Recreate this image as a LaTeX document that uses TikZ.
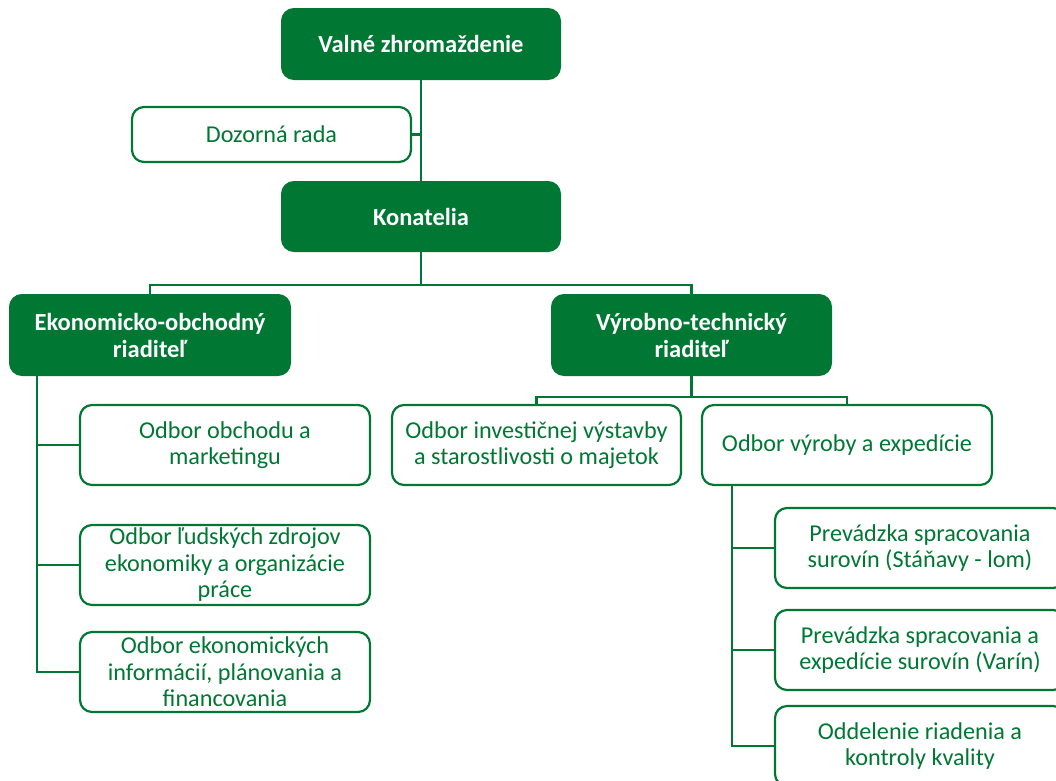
\documentclass[tikz,border=0pt]{standalone}
\usepackage{fontspec}
\setmainfont{Carlito}
\usetikzlibrary{positioning}
\definecolor{zelena}{RGB}{0,120,52}

\begin{document}
\begin{tikzpicture}[x=1pt,y=-1pt,
 line/.style={draw=zelena,line width=2.5pt},
 main node/.style={rectangle,rounded corners=12pt,fill=zelena,draw=zelena,line width=2pt,text=white,
   font=\fontsize{24.5}{27}\selectfont\bfseries,align=center,minimum width=278pt,minimum height=70pt,inner sep=1pt},
 sub node/.style={rectangle,rounded corners=12pt,fill=white,draw=zelena,line width=2.2pt,text=zelena,
   font=\fontsize{24.2}{26.5}\selectfont,align=center,minimum width=290pt,minimum height=80pt,inner sep=1pt}]

  \path[use as bounding box,clip] (0,0) rectangle (1056,780);

  \node[main node] (valne) at (421,44) {Valné zhromaždenie};
  \node[sub node, minimum width=279pt, minimum height=55pt] (dozor) at (271.5,134.5) {Dozorná rada};
  \node[main node, minimum height=69pt] (konat) at (421,216.5) {Konatelia};
  \node[main node, minimum width=280pt, minimum height=80pt] (ekon) at (150,335) {Ekonomicko-obchodný\\riaditeľ};
  \node[main node, minimum width=279pt, minimum height=80pt] (vyrob) at (691.5,335) {Výrobno-technický\\riaditeľ};

  \node[sub node] (obchod) at (225,445) {Odbor obchodu a\\marketingu};
  \node[sub node] (ludia) at (225,565) {Odbor ľudských zdrojov\\ekonomiky a organizácie\\práce};
  \node[sub node] (info) at (225,672) {Odbor ekonomických\\informácií, plánovania a\\financovania};
  \node[sub node, minimum width=289pt] (invest) at (536.5,445) {Odbor investičnej výstavby\\a starostlivosti o majetok};
  \node[sub node] (exped) at (847,445) {Odbor výroby a expedície};
  \node[sub node] (lom) at (920,548) {Prevádzka spracovania\\surovín (Stáňavy - lom)};
  \node[sub node] (varin) at (920,650) {Prevádzka spracovania a\\expedície surovín (Varín)};
  \node[sub node] (kvalita) at (920,746) {Oddelenie riadenia a\\kontroly kvality};

  \draw[line] (valne) -- (konat);
  \draw[line] (dozor.east) -- (dozor.east -| valne.south);
  \draw[line] (konat.south) -- ++(0,33) coordinate (k);
  \draw[line] (ekon.north) |- (k) -| (vyrob.north);
  \draw[line] (vyrob.south) -- ++(0,21) coordinate (v);
  \draw[line] (invest.north) |- (v) -| (exped.north);

  \path (ekon.south west) ++(28,0) coordinate (e);
  \foreach \n in {obchod,ludia,info} {
   \draw[line] (e) |- (\n.west);}
  \path (exped.south west) ++(31,0) coordinate (x);
  \foreach \n in {lom,varin,kvalita} {
   \draw[line] (x) |- (\n.west);}
\end{tikzpicture}
\end{document}
